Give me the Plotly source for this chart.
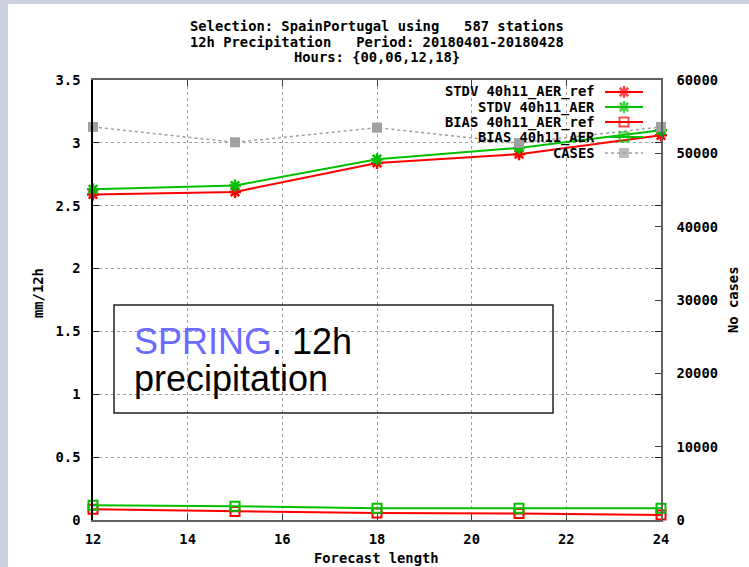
import plotly.graph_objects as go

# ---- data ----
lead = [12, 15, 18, 21, 24]
stdv_ref = [2.59, 2.61, 2.84, 2.91, 3.06]
stdv_aer = [2.63, 2.66, 2.87, 2.96, 3.10]
bias_ref = [0.085, 0.068, 0.056, 0.051, 0.040]
bias_aer = [0.117, 0.110, 0.093, 0.093, 0.093]
cases = [53600, 51500, 53500, 51400, 53600]

x_ticks = [12, 14, 16, 18, 20, 22, 24]
y_ticks = [0, 0.5, 1, 1.5, 2, 2.5, 3, 3.5]
y_ticklabels = ["0", "0.5", "1", "1.5", "2", "2.5", "3", "3.5"]
y2_ticks = [0, 10000, 20000, 30000, 40000, 50000, 60000]
y2_ticklabels = ["0", "10000", "20000", "30000", "40000", "50000", "60000"]

legend_names = ["STDV 40h11_AER_ref", "STDV 40h11_AER", "BIAS 40h11_AER_ref",
                "BIAS 40h11_AER", "CASES"]

title_lines = ["Selection: SpainPortugal using   587 stations",
               "12h Precipitation   Period: 20180401-20180428",
               "Hours: {00,06,12,18}"]

RED = "#ff0000"
GREEN = "#00c000"
GRAY = "#a0a0a0"
MONO = dict(family="DejaVu Sans Mono", size=13.8, color="black", weight="bold")

# pixel layout helpers
W, H = 749, 567
L, R, T, B = 93, 661, 80, 520
def px(x):
    return (x - L) / (R - L)
def py(y):
    return (B - y) / (B - T)

styles = [
    dict(color=RED, symbol="asterisk-open", size=10, dash="solid", width=2),
    dict(color=GREEN, symbol="asterisk-open", size=10, dash="solid", width=2),
    dict(color=RED, symbol="square-open", size=9, dash="solid", width=2),
    dict(color=GREEN, symbol="square-open", size=9, dash="solid", width=2),
    dict(color=GRAY, symbol="square", size=10, dash="dot", width=1.5),
]
series = [stdv_ref, stdv_aer, bias_ref, bias_aer, cases]

fig = go.Figure()
for i, (ys, st) in enumerate(zip(series, styles)):
    fig.add_trace(go.Scatter(
        x=lead, y=ys, mode="lines+markers", name=legend_names[i],
        yaxis="y2" if i == 4 else "y",
        line=dict(color=st["color"], width=st["width"], dash=st["dash"]),
        marker=dict(symbol=st["symbol"], size=st["size"], color=st["color"],
                    line=dict(color=st["color"], width=2.5 if i < 2 else (2 if i < 4 else 0))),
        cliponaxis=False, showlegend=False))

# custom gnuplot-style key (text right, sample on right)
key_rows = [92, 107, 122, 137, 153]
annotations = []
for i, st in enumerate(styles):
    yk = py(key_rows[i])
    fig.add_trace(go.Scatter(
        x=[px(605), px(624), px(643)], y=[yk, yk, yk], mode="lines+markers",
        xaxis="x3", yaxis="y3",
        line=dict(color=st["color"], width=st["width"], dash=st["dash"]),
        marker=dict(symbol=st["symbol"], size=[0, st["size"], 0], color=st["color"],
                    line=dict(color=st["color"], width=2.5 if i < 2 else (2 if i < 4 else 0))),
        cliponaxis=False, showlegend=False, hoverinfo="skip"))
    annotations.append(dict(xref="paper", yref="paper", x=px(597), y=yk,
                            xanchor="right", yanchor="middle", showarrow=False,
                            text=legend_names[i], font=MONO))

# title lines
for t, yy in zip(title_lines, [26, 42, 57]):
    annotations.append(dict(xref="paper", yref="paper", x=px(377), y=py(yy),
                            xanchor="center", yanchor="middle", showarrow=False,
                            text=t, font=MONO))
# axis titles
annotations.append(dict(xref="paper", yref="paper", x=px(376), y=py(558),
                        xanchor="center", yanchor="middle", showarrow=False,
                        text="Forecast length", font=MONO))
annotations.append(dict(xref="paper", yref="paper", x=px(38), y=py(293),
                        xanchor="center", yanchor="middle", showarrow=False,
                        text="mm/12h", font=MONO, textangle=-90))
annotations.append(dict(xref="paper", yref="paper", x=px(733), y=py(300),
                        xanchor="center", yanchor="middle", showarrow=False,
                        text="No cases", font=MONO, textangle=-90))
# boxed note
NOTE = dict(family="Liberation Sans, Arial", size=36, color="black")
annotations.append(dict(xref="paper", yref="paper", x=px(132), y=py(341),
                        xanchor="left", yanchor="middle", showarrow=False,
                        text="<span style='color:#6b6bff'>SPRING</span>. 12h",
                        font=NOTE))
annotations.append(dict(xref="paper", yref="paper", x=px(132), y=py(378),
                        xanchor="left", yanchor="middle", showarrow=False,
                        text="precipitation", font=NOTE))

SLIDE = "#c9cfdc"
shapes = [
    dict(type="rect", xref="paper", yref="paper", x0=px(-5), x1=px(8),
         y0=py(H + 5), y1=py(-5), fillcolor=SLIDE, line=dict(width=0), layer="below"),
    dict(type="rect", xref="paper", yref="paper", x0=px(-5), x1=px(W + 5),
         y0=py(4), y1=py(-5), fillcolor=SLIDE, line=dict(width=0), layer="below"),
    dict(type="rect", xref="paper", yref="paper", x0=px(114), x1=px(553),
         y0=py(413), y1=py(305), line=dict(color="#202020", width=1.5),
         fillcolor="rgba(0,0,0,0)", layer="above"),
]

fig.update_layout(
    width=W, height=H,
    margin=dict(l=L, r=W - R, t=T, b=H - B, pad=0),
    paper_bgcolor="white", plot_bgcolor="white",
    showlegend=False,
    xaxis=dict(range=[12, 24], tickvals=x_ticks, ticks="inside", ticklen=6,
               tickcolor="#404040", showline=True, linecolor="#606060", linewidth=1.5,
               mirror="ticks", showgrid=True, gridcolor=GRAY, griddash="dot",
               gridwidth=1, zeroline=False, tickfont=MONO, ticklabelstandoff=6),
    yaxis=dict(range=[0, 3.5], tickvals=y_ticks, ticktext=y_ticklabels,
               ticks="inside", ticklen=6, tickcolor="#202020", showline=True,
               linecolor="black", linewidth=1.5, mirror="ticks", showgrid=True,
               gridcolor=GRAY, griddash="dot", gridwidth=1, zeroline=False,
               tickfont=MONO, ticklabelstandoff=8),
    yaxis2=dict(range=[0, 60000], tickvals=y2_ticks, ticktext=y2_ticklabels,
                overlaying="y", side="right",
                ticks="inside", ticklen=6, tickcolor="#404040", showline=True,
                linecolor="#606060", linewidth=1.5, showgrid=False, zeroline=False,
                tickfont=MONO, ticklabelstandoff=11),
    xaxis3=dict(range=[0, 1], overlaying="x", anchor="y3", visible=False),
    yaxis3=dict(range=[0, 1], overlaying="y", anchor="x3", visible=False),
    annotations=annotations,
    shapes=shapes,
)

fig.write_html("out.html")
